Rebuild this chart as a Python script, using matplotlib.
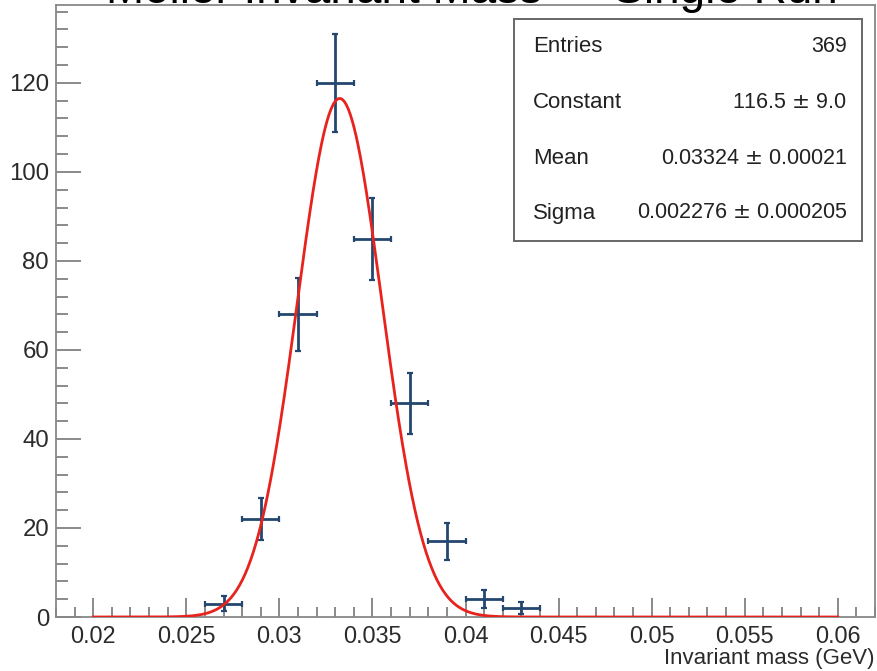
import numpy as np
import matplotlib
matplotlib.use("Agg")
import matplotlib.pyplot as plt
from matplotlib.patches import Rectangle
from matplotlib.ticker import MultipleLocator

plt.rcParams['font.family'] = ['Liberation Sans', 'DejaVu Sans']

# ---- data ----
bin_centers = [0.027, 0.029, 0.031, 0.033, 0.035, 0.037, 0.039, 0.041, 0.043]
counts = [3, 22, 68, 120, 85, 48, 17, 4, 2]
bin_half_width = 0.001
fit_constant = 116.5
fit_mean = 0.03324
fit_sigma = 0.002276
fit_range = (0.02, 0.06)
stat_labels = ["Entries", "Constant", "Mean", "Sigma"]
stat_values = ["369", "116.5 $\\pm$ 9.0", "0.03324 $\\pm$ 0.00021", "0.002276 $\\pm$ 0.000205"]
title = "Moller Invariant Mass \u2014 Single Run"
xlabel = "Invariant mass (GeV)"

W, H = 877, 671
fig = plt.figure(figsize=(W / 100, H / 100), dpi=100)
fig.patch.set_facecolor('white')
L, R, T, B = 56, 875, 5, 617
ax = fig.add_axes([L / W, 1 - B / H, (R - L) / W, (B - T) / H])

x = np.array(bin_centers)
y = np.array(counts, dtype=float)
yerr = np.sqrt(y)
data_color = '#24476f'
ax.errorbar(x, y, xerr=bin_half_width, yerr=yerr, fmt='none', ecolor=data_color,
            elinewidth=2.0, capsize=2.2, capthick=1.6, zorder=3)

xf = np.linspace(fit_range[0], fit_range[1], 800)
yf = fit_constant * np.exp(-0.5 * ((xf - fit_mean) / fit_sigma) ** 2)
ax.plot(xf, yf, color='#e8231d', lw=2.0, zorder=4)

ax.set_xlim(0.018, 0.062)
ax.set_ylim(0, 137.5)
ax.xaxis.set_major_locator(MultipleLocator(0.005))
ax.xaxis.set_minor_locator(MultipleLocator(0.001))
ax.yaxis.set_major_locator(MultipleLocator(20))
ax.yaxis.set_minor_locator(MultipleLocator(4))
ax.xaxis.set_major_formatter(matplotlib.ticker.FuncFormatter(lambda v, p: ('%g' % round(v, 4))))

tick_col = '#777777'
ax.tick_params(axis='x', which='major', direction='in', length=13.7, width=1.2, color=tick_col,
               labelsize=16.8, labelcolor='#2b2b2b', pad=6)
ax.tick_params(axis='x', which='minor', direction='in', length=7.2, width=1.2, color=tick_col)
ax.tick_params(axis='y', which='major', direction='in', length=18, width=1.2, color=tick_col,
               labelsize=17.3, labelcolor='#2b2b2b', pad=5)
ax.tick_params(axis='y', which='minor', direction='in', length=8.6, width=1.2, color=tick_col)
for s in ax.spines.values():
    s.set_color('#888888')
    s.set_linewidth(1.3)

ax.set_xlabel(xlabel, fontsize=16, color='#2b2b2b', loc='right', labelpad=0)

# title (partially cut off at top, as in the reference)
fig.text(0.538, 1 - 3 / H, title, ha='center', va='baseline', fontsize=33, color='black')

# stats box
bx0, bx1, by0, by1 = 514, 862, 19, 241
fig.patches.append(Rectangle((bx0 / W, 1 - by1 / H), (bx1 - bx0) / W, (by1 - by0) / H,
                             transform=fig.transFigure, facecolor='white', edgecolor='#666666',
                             lw=1.4, zorder=5))
rows_y = [47, 102, 158, 213]
for lab, val, yy in zip(stat_labels, stat_values, rows_y):
    fig.text(533 / W, 1 - yy / H, lab, ha='left', va='center', fontsize=16, color='#222222', zorder=6)
    fig.text(847 / W, 1 - yy / H, val, ha='right', va='center', fontsize=15.5, color='#222222', zorder=6)

fig.savefig('out.png', dpi=100, facecolor='white')
